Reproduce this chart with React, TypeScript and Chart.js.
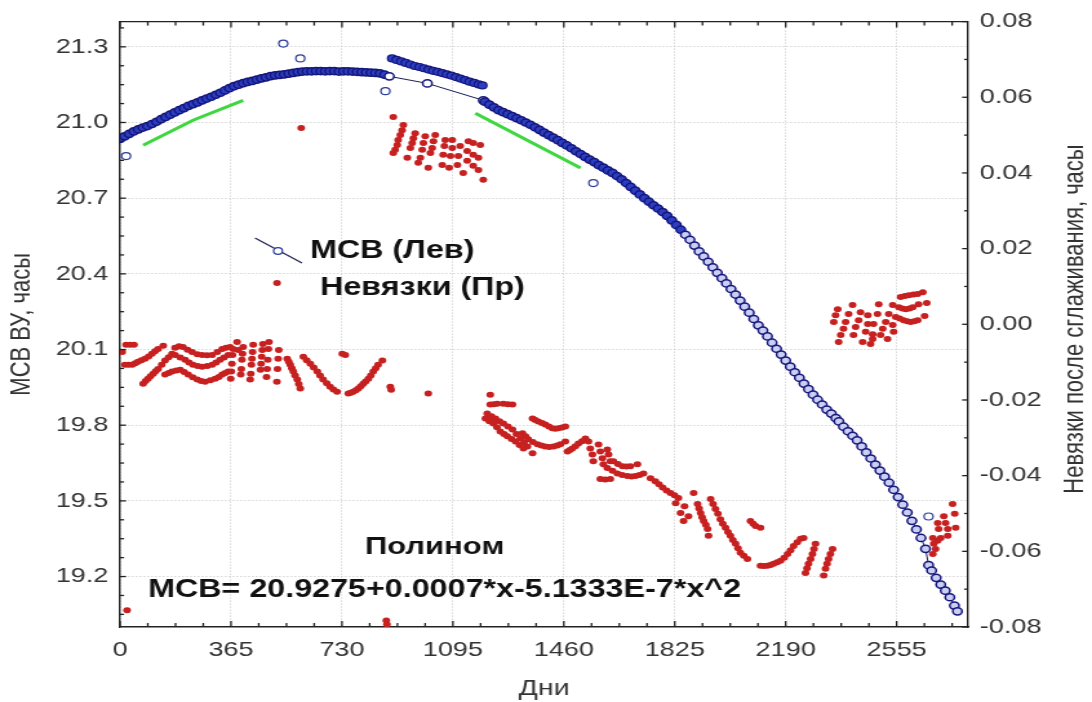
import React, { useEffect, useRef } from "react";
import { Chart, registerables } from "chart.js";

Chart.register(...registerables);

// ---- axis ticks ----
const xTickValues = [0, 365, 730, 1095, 1460, 1825, 2190, 2555];
const leftTickValues = [19.2, 19.5, 19.8, 20.1, 20.4, 20.7, 21.0, 21.3];
const rightTickValues = [-0.08, -0.06, -0.04, -0.02, 0, 0.02, 0.04, 0.06, 0.08];

// ---- MSV series (left axis): [day, hours] ----
const mcbEarly: [number, number][] = [
  [0, 20.935], [15, 20.945], [30, 20.955], [45, 20.965], [60, 20.973], [75, 20.98],
  [90, 20.986], [105, 20.994], [120, 21.003], [135, 21.013], [150, 21.022], [165, 21.031],
  [180, 21.04], [195, 21.049], [210, 21.057], [225, 21.066], [240, 21.073], [255, 21.08],
  [270, 21.088], [285, 21.095], [300, 21.102], [315, 21.11], [330, 21.118], [345, 21.127],
  [360, 21.136], [375, 21.144], [390, 21.15], [405, 21.156], [420, 21.161], [435, 21.165],
  [450, 21.17], [465, 21.175], [480, 21.179], [495, 21.184], [510, 21.187], [525, 21.189],
  [540, 21.191], [555, 21.194], [570, 21.197], [585, 21.2], [600, 21.202], [615, 21.203],
  [630, 21.203], [645, 21.204], [660, 21.204], [675, 21.203], [690, 21.204], [705, 21.204],
  [720, 21.202], [735, 21.203], [750, 21.203], [765, 21.202], [780, 21.201], [795, 21.2],
  [810, 21.199], [825, 21.198], [840, 21.197], [855, 21.195], [870, 21.19],
];
const mcbBridge: [number, number][] = [[886, 21.183], [1011, 21.155], [1195, 21.088]];
const mcbLate: [number, number][] = [
  [1200, 21.083], [1215, 21.071], [1230, 21.06], [1245, 21.049], [1260, 21.041], [1275, 21.033],
  [1290, 21.025], [1305, 21.017], [1320, 21.009], [1335, 21.0], [1350, 20.991], [1365, 20.981],
  [1380, 20.971], [1395, 20.96], [1410, 20.95], [1425, 20.94], [1440, 20.93], [1455, 20.919],
  [1470, 20.909], [1485, 20.898], [1500, 20.886], [1515, 20.875], [1530, 20.864], [1545, 20.853],
  [1560, 20.843], [1575, 20.831], [1590, 20.821], [1605, 20.81], [1620, 20.8], [1635, 20.788],
  [1650, 20.775], [1665, 20.76], [1680, 20.745], [1695, 20.73], [1710, 20.715], [1725, 20.7],
  [1740, 20.686], [1755, 20.672], [1770, 20.659], [1785, 20.645], [1800, 20.63], [1815, 20.612],
  [1830, 20.594], [1845, 20.575], [1860, 20.555], [1875, 20.535], [1890, 20.512], [1905, 20.489],
  [1920, 20.469], [1935, 20.448], [1950, 20.426], [1965, 20.404], [1980, 20.383], [1995, 20.362],
  [2010, 20.34], [2025, 20.318], [2040, 20.294], [2055, 20.27], [2070, 20.246], [2085, 20.221],
  [2100, 20.196], [2115, 20.175], [2130, 20.152], [2145, 20.127], [2160, 20.103], [2175, 20.08],
  [2190, 20.056], [2205, 20.032], [2220, 20.01], [2235, 19.988], [2250, 19.965], [2265, 19.943],
  [2280, 19.921], [2295, 19.901], [2310, 19.882], [2325, 19.862], [2340, 19.846], [2355, 19.828],
  [2365, 19.815], [2380, 19.794], [2395, 19.776], [2410, 19.758], [2425, 19.74], [2440, 19.716],
  [2455, 19.692], [2470, 19.668], [2485, 19.644], [2500, 19.62], [2515, 19.596], [2530, 19.572],
  [2545, 19.544], [2560, 19.515], [2575, 19.485], [2590, 19.454], [2605, 19.421], [2620, 19.387],
  [2635, 19.353], [2650, 19.31], [2660, 19.245], [2670, 19.224], [2685, 19.195], [2700, 19.168],
  [2715, 19.144], [2730, 19.118], [2745, 19.085], [2755, 19.062],
];
const mcbUpper: [number, number][] = [
  [895, 21.254], [910, 21.248], [925, 21.242], [940, 21.236], [955, 21.23], [970, 21.224],
  [985, 21.22], [1000, 21.215], [1015, 21.21], [1030, 21.205], [1045, 21.201], [1060, 21.196],
  [1075, 21.191], [1090, 21.186], [1105, 21.18], [1120, 21.174], [1135, 21.168], [1150, 21.162],
  [1165, 21.157], [1180, 21.151], [1192, 21.147],
];
const mcbOutliers: [number, number][] = [
  [20, 20.867], [537, 21.313], [593, 21.254], [873, 21.124], [1557, 20.76], [2660, 19.438],
];

// ---- green fitted segments (left axis) ----
const greenEarly: [number, number][] = [[76, 20.91], [240, 21.009], [405, 21.088]];
const greenLate: [number, number][] = [[1169, 21.037], [1515, 20.82]];

// ---- residuals (right axis): [day, hours] ----
const residA: [number, number][] = [
  [7, -0.0073], [20, -0.0054], [33, -0.0054], [46, -0.0054], [16, -0.0107], [28, -0.0107],
  [40, -0.0107], [50, -0.0103], [59, -0.0099], [70, -0.0095], [82, -0.0091], [94, -0.0085],
  [105, -0.0078], [115, -0.0071], [125, -0.0065], [142, -0.0057], [76, -0.0157], [84, -0.015],
  [92, -0.0144], [100, -0.0137], [109, -0.0131], [117, -0.0124], [125, -0.0118], [137, -0.0107],
  [148, -0.0096], [160, -0.0087], [171, -0.0078], [181, -0.0062], [194, -0.0058], [207, -0.006],
  [222, -0.0067], [237, -0.0073], [254, -0.0079], [270, -0.0081], [286, -0.0082], [303, -0.0081],
  [320, -0.0073], [336, -0.0065], [349, -0.0062], [362, -0.006], [385, -0.0047],
  [181, -0.0081], [198, -0.0088], [214, -0.0094], [227, -0.0101], [240, -0.0107], [255, -0.011],
  [270, -0.0112], [287, -0.011], [303, -0.0107], [316, -0.0101], [329, -0.0094], [342, -0.0088],
  [356, -0.0081], [389, -0.0068], [148, -0.0133], [160, -0.0129], [171, -0.0125], [185, -0.0122],
  [198, -0.012], [211, -0.0126], [224, -0.0133], [239, -0.014], [254, -0.0146], [267, -0.015],
  [280, -0.0152], [297, -0.0148], [313, -0.0144], [325, -0.0139], [336, -0.0133], [346, -0.0129],
  [356, -0.0125],
  [372, -0.0065], [370, -0.0081], [368, -0.0104], [366, -0.0125], [364, -0.0144],
  [405, -0.006], [403, -0.0078], [401, -0.0094], [399, -0.0118], [397, -0.0133],
  [438, -0.0054], [436, -0.0073], [434, -0.0091], [432, -0.0107], [430, -0.0131], [428, -0.0146],
  [470, -0.0052], [468, -0.0068], [466, -0.0086], [464, -0.0104], [462, -0.012],
  [490, -0.0047], [488, -0.0065], [486, -0.0094], [484, -0.0118], [482, -0.0139],
  [522, -0.0068], [520, -0.0091], [518, -0.0118], [516, -0.0152],
  [550, -0.0091], [555, -0.0099], [560, -0.0107], [565, -0.0116], [570, -0.0125], [576, -0.0135],
  [583, -0.0146], [588, -0.0158], [593, -0.017],
  [603, -0.0086], [614, -0.0095], [626, -0.0104], [637, -0.0114], [649, -0.0125], [658, -0.0135],
  [668, -0.0146], [680, -0.0156], [691, -0.0165], [702, -0.0172], [714, -0.0178],
  [731, -0.0078], [741, -0.0081],
  [751, -0.0183], [759, -0.0181], [767, -0.0178], [776, -0.0174], [784, -0.017], [792, -0.0164],
  [800, -0.0157], [808, -0.0151], [817, -0.0144], [825, -0.0135], [833, -0.0125], [841, -0.0116],
  [849, -0.0107], [863, -0.0096], [889, -0.0165], [892, -0.0173], [1014, -0.0183],
  [23, -0.0756], [596, 0.0519], [876, -0.0783], [878, -0.0793],
];
const residB: [number, number][] = [
  [899, 0.0548], [932, 0.0527], [928, 0.0513], [922, 0.05], [915, 0.0487], [912, 0.0474],
  [905, 0.0461], [899, 0.0453], [971, 0.0505], [965, 0.0492], [961, 0.0479], [955, 0.0466],
  [945, 0.044], [1004, 0.0497], [998, 0.0479], [994, 0.0461], [988, 0.044], [981, 0.0427],
  [1037, 0.05], [1031, 0.0484], [1027, 0.0466], [1021, 0.0453], [1014, 0.0414],
  [1070, 0.0487], [1067, 0.0471], [1063, 0.0448], [1060, 0.0421],
  [1093, 0.0487], [1093, 0.0466], [1087, 0.0445], [1083, 0.0414],
  [1119, 0.0471], [1113, 0.0445], [1110, 0.0421], [1129, 0.04],
  [1146, 0.0484], [1162, 0.0479], [1185, 0.0474], [1142, 0.0458], [1162, 0.0448], [1179, 0.044],
  [1142, 0.0432], [1162, 0.0419], [1179, 0.0408], [1195, 0.0382],
];
const residC: [number, number][] = [
  [1218, -0.0186], [1218, -0.0212], [1230, -0.0211], [1241, -0.021], [1261, -0.021], [1276, -0.0211],
  [1291, -0.0212], [1208, -0.0236], [1222, -0.0243], [1235, -0.0249], [1248, -0.0256], [1261, -0.0262],
  [1276, -0.027], [1291, -0.0278], [1304, -0.029], [1317, -0.0302], [1329, -0.0313], [1340, -0.0323],
  [1357, -0.0341], [1202, -0.0249], [1215, -0.0256], [1228, -0.0262], [1240, -0.0272], [1251, -0.0283],
  [1263, -0.029], [1274, -0.0296], [1288, -0.0303], [1301, -0.031], [1314, -0.0319], [1327, -0.0328],
  [1357, -0.0249], [1366, -0.0253], [1376, -0.0257], [1388, -0.0261], [1399, -0.0265],
  [1411, -0.027], [1422, -0.0275], [1432, -0.0276], [1442, -0.0275], [1454, -0.0273], [1465, -0.027],
  [1324, -0.0288], [1334, -0.0296], [1343, -0.0304], [1358, -0.0311], [1373, -0.0317], [1386, -0.032],
  [1399, -0.0323], [1412, -0.0324], [1426, -0.0323], [1438, -0.032], [1449, -0.0317], [1465, -0.031],
  [1472, -0.0336], [1480, -0.0332], [1488, -0.0328], [1498, -0.0322], [1508, -0.0315], [1520, -0.0309],
  [1531, -0.0302],
  [1541, -0.031], [1547, -0.0328], [1554, -0.0344], [1557, -0.0362],
  [1574, -0.0318], [1580, -0.0336], [1587, -0.0354], [1590, -0.037],
  [1603, -0.0331], [1607, -0.0344], [1613, -0.0362],
  [1623, -0.0362], [1638, -0.0369], [1653, -0.0375], [1666, -0.0376], [1679, -0.0375], [1702, -0.037],
  [1603, -0.038], [1620, -0.0387], [1636, -0.0394], [1652, -0.0398], [1669, -0.0401], [1683, -0.0402],
  [1696, -0.0401], [1709, -0.0398], [1722, -0.0394],
  [1580, -0.0409], [1596, -0.041], [1613, -0.0409],
  [1745, -0.0407], [1761, -0.0415], [1773, -0.0423], [1785, -0.0431], [1798, -0.0439], [1811, -0.0446],
  [1824, -0.0452], [1837, -0.0459], [1857, -0.0481], [1870, -0.0507], [1828, -0.0473], [1844, -0.0499],
  [1854, -0.052],
];
const residD: [number, number][] = [
  [1887, -0.0446], [1900, -0.0475], [1905, -0.0487], [1910, -0.0499], [1915, -0.051], [1920, -0.052],
  [1927, -0.053], [1933, -0.0541], [1936, -0.0559],
  [1943, -0.0462], [1951, -0.0475], [1959, -0.0488], [1967, -0.0501], [1975, -0.0515], [1983, -0.0527],
  [1992, -0.0538], [2000, -0.0549], [2008, -0.0559], [2016, -0.057], [2025, -0.058], [2033, -0.0592],
  [2041, -0.0604], [2052, -0.0612], [2064, -0.062],
  [2074, -0.052], [2083, -0.0527], [2091, -0.0533], [2107, -0.0538],
  [2107, -0.0638], [2118, -0.0639], [2130, -0.0638], [2140, -0.0636], [2150, -0.0633], [2162, -0.0629],
  [2173, -0.0625], [2185, -0.0617], [2196, -0.0607], [2206, -0.0597], [2216, -0.0586], [2228, -0.0576],
  [2239, -0.0567], [2249, -0.0565],
  [2288, -0.058], [2283, -0.0594], [2278, -0.0607], [2272, -0.062], [2265, -0.0633], [2260, -0.0645],
  [2255, -0.0657],
  [2344, -0.0594], [2337, -0.0607], [2331, -0.062], [2326, -0.0633], [2321, -0.0646], [2315, -0.0664],
];
const residE: [number, number][] = [
  [2361, 0.004], [2354, 0.0024], [2348, 0.0006],
  [2410, 0.0051], [2397, 0.0027], [2387, 0.0006], [2380, -0.0012], [2371, -0.0028], [2364, -0.0047],
  [2436, 0.0032], [2430, 0.0011], [2420, -0.0007], [2413, -0.0028],
  [2460, 0.0024], [2460, 0.0001], [2453, -0.002], [2443, -0.0047], [2469, -0.0052],
  [2496, 0.0053], [2492, 0.0027], [2479, 0.0001], [2476, -0.0026], [2476, -0.0039],
  [2542, 0.0051], [2529, 0.0027], [2519, 0.0006], [2509, -0.0012], [2502, -0.0028], [2525, -0.0039],
  [2542, -0.0002], [2545, -0.002],
  [2568, 0.0072], [2582, 0.0075], [2595, 0.0077], [2610, 0.0079], [2624, 0.008], [2641, 0.0085],
  [2562, 0.0045], [2574, 0.0042], [2585, 0.004], [2597, 0.0042], [2608, 0.0045], [2627, 0.0053],
  [2654, 0.0056],
  [2552, 0.0019], [2565, 0.0015], [2578, 0.0011], [2590, 0.0008], [2601, 0.0006], [2613, 0.0008],
  [2624, 0.0011], [2647, 0.0022],
];
const residF: [number, number][] = [
  [2739, -0.0475], [2746, -0.0501], [2749, -0.0538],
  [2710, -0.0507], [2716, -0.0525], [2723, -0.0541], [2723, -0.0559],
  [2690, -0.0525], [2693, -0.0541], [2700, -0.0565], [2690, -0.0572],
  [2674, -0.0565], [2677, -0.058], [2683, -0.0594], [2674, -0.0607],
];

const CANVAS_W = 846;
const CANVAS_H = 702;
const SX = 1092 / CANVAS_W;
const FONT = "'Liberation Sans', Arial, sans-serif";

const toXY = (arr: [number, number][]) => arr.map(([x, y]) => ({ x, y }));

const decorPlugin = {
  id: "decor",
  afterDraw(chart: any) {
    const ctx: CanvasRenderingContext2D = chart.ctx;
    const { left, right, top, bottom } = chart.chartArea;
    const xs = chart.scales.x;
    const yl = chart.scales.y;
    const yr = chart.scales.yR;
    ctx.save();
    ctx.strokeStyle = "#222";
    ctx.lineWidth = 1.3;
    const seg = (x1: number, y1: number, x2: number, y2: number) => {
      ctx.beginPath();
      ctx.moveTo(x1, y1);
      ctx.lineTo(x2, y2);
      ctx.stroke();
    };
    seg(left, top, right, top);
    for (let i = 0; i * 91.25 <= xs.max; i++) {
      const px = xs.getPixelForValue(i * 91.25);
      const len = i % 4 === 0 ? 6 : 4;
      seg(px, bottom, px, bottom - len);
      seg(px, top, px, top + len);
    }
    for (let i = -2; i <= 29; i++) {
      const v = 19.2 + i * 0.075;
      if (v < yl.min - 1e-9 || v > yl.max + 1e-9) continue;
      const py = yl.getPixelForValue(v);
      const len = (i % 4 === 0 ? 6 : 4) / SX;
      seg(left, py, left + len, py);
    }
    for (let i = -8; i <= 8; i++) {
      const py = yr.getPixelForValue(i * 0.01);
      const len = (i % 2 === 0 ? 6 : 4) / SX;
      seg(right, py, right - len, py);
    }

    // legend
    ctx.strokeStyle = "#1c1c50";
    ctx.lineWidth = 1.1;
    seg(255 / SX, 238, 302 / SX, 263);
    ctx.beginPath();
    ctx.arc(278 / SX, 251, 3.4, 0, Math.PI * 2);
    ctx.fillStyle = "#ffffff";
    ctx.fill();
    ctx.strokeStyle = "#2a3c9a";
    ctx.lineWidth = 1.2;
    ctx.stroke();
    ctx.beginPath();
    ctx.arc(277 / SX, 283, 3.0, 0, Math.PI * 2);
    ctx.fillStyle = "#c62020";
    ctx.fill();

    ctx.fillStyle = "#111";
    ctx.textBaseline = "alphabetic";
    ctx.textAlign = "left";
    ctx.font = `bold 25px ${FONT}`;
    ctx.fillText("МСВ (Лев)", 310 / SX, 258);
    ctx.fillText("Невязки (Пр)", 320 / SX, 295);
    ctx.font = `bold 24px ${FONT}`;
    ctx.fillText("Полином", 365 / SX, 554);
    ctx.font = `bold 25px ${FONT}`;
    ctx.fillText("МСВ= 20.9275+0.0007*x-5.1333E-7*x^2", 148 / SX, 597);

    ctx.save();
    ctx.translate(1075 / SX, 319);
    ctx.rotate(-Math.PI / 2);
    ctx.font = `22px ${FONT}`;
    ctx.fillStyle = "#333";
    ctx.textAlign = "center";
    ctx.textBaseline = "middle";
    ctx.fillText("Невязки после сглаживания, часы", 0, 0);
    ctx.restore();

    ctx.restore();
  },
};

const mcbFill = (c: any) => {
  const x = c.raw ? c.raw.x : 0;
  if (x > 1850) return "#c9d0f4";
  if (x > 875 && x < 1196) return "#ffffff";
  return "#2b3fc4";
};

export default function App() {
  const ref = useRef<HTMLCanvasElement | null>(null);

  useEffect(() => {
    const canvas = ref.current;
    if (!canvas) return;
    const tickFont = { family: FONT, size: 21 };
    const chart = new Chart(canvas, {
      type: "scatter",
      data: {
        datasets: [
          {
            label: "МСВ выбросы",
            data: toXY(mcbOutliers),
            yAxisID: "y",
            showLine: false,
            pointRadius: 3.5,
            pointBorderWidth: 1.2,
            pointBackgroundColor: "#ffffff",
            pointBorderColor: "#2a3c9a",
          },
          {
            label: "МСВ (Лев)",
            data: toXY([...mcbEarly, ...mcbBridge, ...mcbLate]),
            yAxisID: "y",
            showLine: true,
            borderColor: "#1c1c50",
            borderWidth: 1,
            pointRadius: 3.6,
            pointBorderWidth: 1.5,
            pointBackgroundColor: mcbFill,
            pointBorderColor: "#16167a",
          },
          {
            label: "МСВ верх",
            data: toXY(mcbUpper),
            yAxisID: "y",
            showLine: true,
            borderColor: "#1c1c50",
            borderWidth: 1,
            pointRadius: 3.5,
            pointBorderWidth: 1.2,
            pointBackgroundColor: "#2b3fc4",
            pointBorderColor: "#16167a",
          },
          {
            label: "fit1",
            data: toXY(greenEarly),
            yAxisID: "y",
            showLine: true,
            borderColor: "#3fd63f",
            borderWidth: 3,
            pointRadius: 0,
          },
          {
            label: "fit2",
            data: toXY(greenLate),
            yAxisID: "y",
            showLine: true,
            borderColor: "#3fd63f",
            borderWidth: 3,
            pointRadius: 0,
          },
          {
            label: "Невязки (Пр)",
            data: toXY([...residA, ...residB, ...residC, ...residD, ...residE, ...residF]),
            yAxisID: "yR",
            showLine: false,
            pointRadius: 3.0,
            pointBorderWidth: 0,
            pointBackgroundColor: "#c62020",
            pointBorderColor: "#c62020",
          },
        ],
      },
      options: {
        responsive: false,
        animation: false,
        devicePixelRatio: 1,
        layout: { padding: { top: 18, left: 0, right: 0, bottom: 0 } },
        plugins: { legend: { display: false }, tooltip: { enabled: false } },
        scales: {
          x: {
            type: "linear",
            position: "bottom",
            min: 0,
            max: 2790,
            afterBuildTicks: (s: any) => {
              s.ticks = xTickValues.map((value) => ({ value }));
            },
            afterFit: (s: any) => {
              s.height = 75;
            },
            ticks: {
              autoSkip: false,
              maxRotation: 0,
              padding: 11,
              color: "#333",
              font: tickFont,
              callback: (v: any) => String(v),
            },
            grid: { color: "#c4c4c4", lineWidth: 1, drawTicks: false },
            border: { display: true, color: "#222", width: 1.4, dash: [1, 2] },
            title: {
              display: true,
              text: "Дни",
              color: "#333",
              font: { family: FONT, size: 22 },
              padding: { top: 0, bottom: 0 },
            },
          },
          y: {
            type: "linear",
            position: "left",
            min: 19.0,
            max: 21.4,
            afterBuildTicks: (s: any) => {
              s.ticks = leftTickValues.map((value) => ({ value }));
            },
            afterFit: (s: any) => {
              s.width = 93;
            },
            ticks: {
              autoSkip: false,
              padding: 9,
              color: "#333",
              font: tickFont,
              callback: (v: any) => Number(v).toFixed(1),
            },
            grid: { color: "#c4c4c4", lineWidth: 1, drawTicks: false },
            border: { display: true, color: "#222", width: 1.4, dash: [1, 2] },
            title: {
              display: true,
              text: "МСВ ВУ, часы",
              color: "#333",
              font: { family: FONT, size: 22 },
              padding: { top: 4, bottom: 4 },
            },
          },
          yR: {
            type: "linear",
            position: "right",
            min: -0.08,
            max: 0.08,
            afterBuildTicks: (s: any) => {
              s.ticks = rightTickValues.map((value) => ({ value }));
            },
            afterFit: (s: any) => {
              s.width = CANVAS_W - 750;
            },
            ticks: {
              autoSkip: false,
              padding: 9,
              color: "#333",
              font: tickFont,
              callback: (v: any) => Number(v).toFixed(2),
            },
            grid: { display: false, drawTicks: false },
            border: { display: true, color: "#222", width: 1.4 },
          },
        },
      },
      plugins: [decorPlugin],
    } as any);
    return () => chart.destroy();
  }, []);

  return (
    <div style={{ position: "fixed", left: 0, top: 0, width: 1092, height: 702, background: "#fff" }}>
      <canvas
        ref={ref}
        width={CANVAS_W}
        height={CANVAS_H}
        style={{ width: "1092px", height: "702px", display: "block" }}
      />
    </div>
  );
}
